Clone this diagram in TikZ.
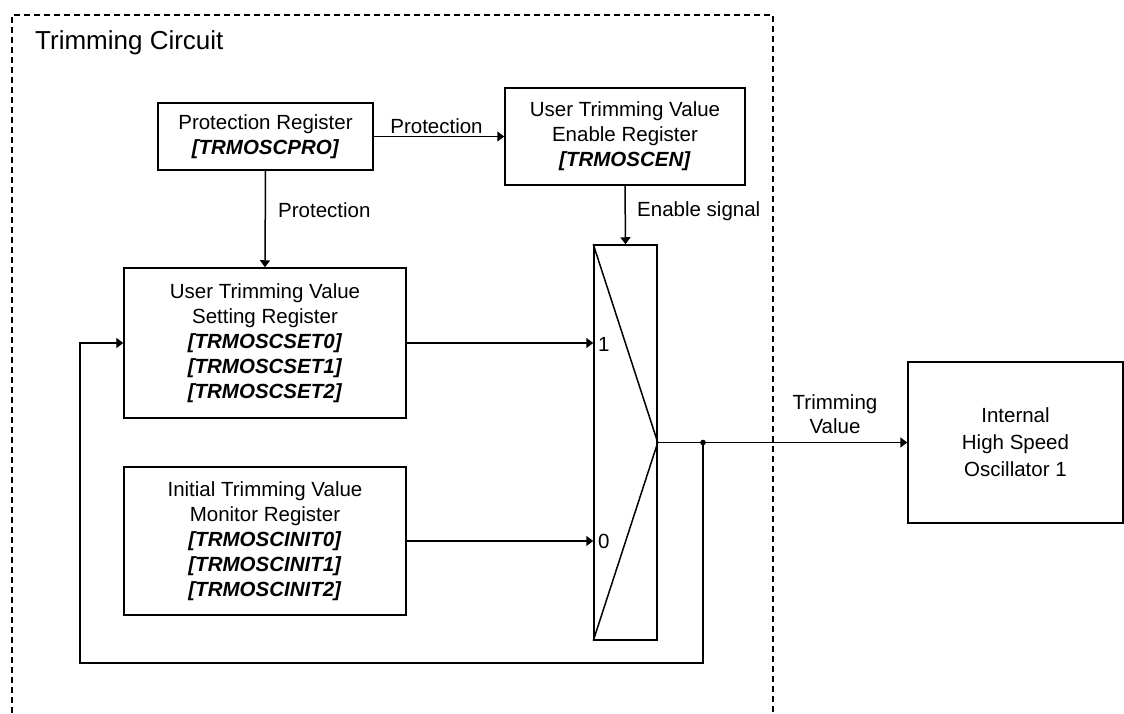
\documentclass[tikz,border=0pt]{standalone}
\usepackage{fontspec}
\setmainfont{Liberation Sans}
\usetikzlibrary{arrows.meta}
\tikzset{
  reg/.style={draw, line width=1.5pt, rectangle, inner sep=0pt, align=center,
    font=\fontsize{20.5pt}{25pt}\selectfont},
  lbl/.style={inner sep=0pt, font=\fontsize{20.5pt}{24pt}\selectfont, align=center},
  conn/.style={line width=1.5pt, -{Triangle[length=7pt,width=10pt]}},
  wire/.style={line width=1.5pt},
  frame/.style={line width=1.2pt, dash pattern=on 6pt off 4pt}
}
\newcommand{\bi}[1]{\textbf{\textit{#1}}}
\begin{document}
\begin{tikzpicture}[x=1pt,y=-1pt]
\useasboundingbox (0,0) rectangle (1124,713);
% frame
\draw[frame] (12,713) -- (12,15) -- (773,15) -- (773,713);
\node[anchor=base west, inner sep=0pt, font=\fontsize{26pt}{30pt}\selectfont] (title) at (35,49) {Trimming Circuit};
% boxes
\node[reg, minimum width=215pt, minimum height=67pt] (prot) at (265.5,136.5) {Protection Register\\\bi{[TRMOSCPRO]}};
\node[reg, minimum width=240pt, minimum height=97pt] (en) at (625,136.5) {User Trimming Value\\Enable Register\\\bi{[TRMOSCEN]}};
\node[reg, minimum width=282pt, minimum height=150pt] (set) at (265,343) {User Trimming Value\\Setting Register\\\bi{[TRMOSCSET0]}\\\bi{[TRMOSCSET1]}\\\bi{[TRMOSCSET2]}};
\node[reg, minimum width=282pt, minimum height=148pt] (init) at (265,541) {Initial Trimming Value\\Monitor Register\\\bi{[TRMOSCINIT0]}\\\bi{[TRMOSCINIT1]}\\\bi{[TRMOSCINIT2]}};
\node[draw, line width=1.5pt, rectangle, inner sep=0pt, minimum width=63pt, minimum height=395pt] (mux) at (625.5,442.5) {};
\node[reg, minimum width=215pt, minimum height=161pt, font=\fontsize{20.5pt}{27pt}\selectfont] (osc) at (1015.5,442.5) {Internal\\High Speed\\Oscillator 1};
% mux diagonals
\draw[wire] (mux.north west) -- (mux.east) -- (mux.south west);
\node[lbl, anchor=west] (one) at (598,344) {1};
\node[lbl, anchor=west] (zero) at (598,541) {0};
% connectors
\draw[conn] (prot.east) -- (en.west);
\node[lbl] (plabh) at (436.5,126) {Protection};
\draw[conn] (prot.south) -- (set.north);
\node[lbl, anchor=west] (plabv) at (278,210) {Protection};
\draw[conn] (en.south) -- (mux.north);
\node[lbl, anchor=west] (elab) at (637,211) {Enable signal};
\draw[conn] (set.east) -- (set.east -| mux.west);
\draw[conn] (init.east) -- (init.east -| mux.west);
\draw[conn] (mux.east) -- (osc.west);
\node[lbl] (tlab) at (835,414) {Trimming\\Value};
\coordinate (j) at (703,442.5);
\coordinate (fbl) at (80,663);
\fill (j) circle (2.8pt);
\draw[conn] (j) |- (fbl) |- (set.west);
\end{tikzpicture}
\end{document}
